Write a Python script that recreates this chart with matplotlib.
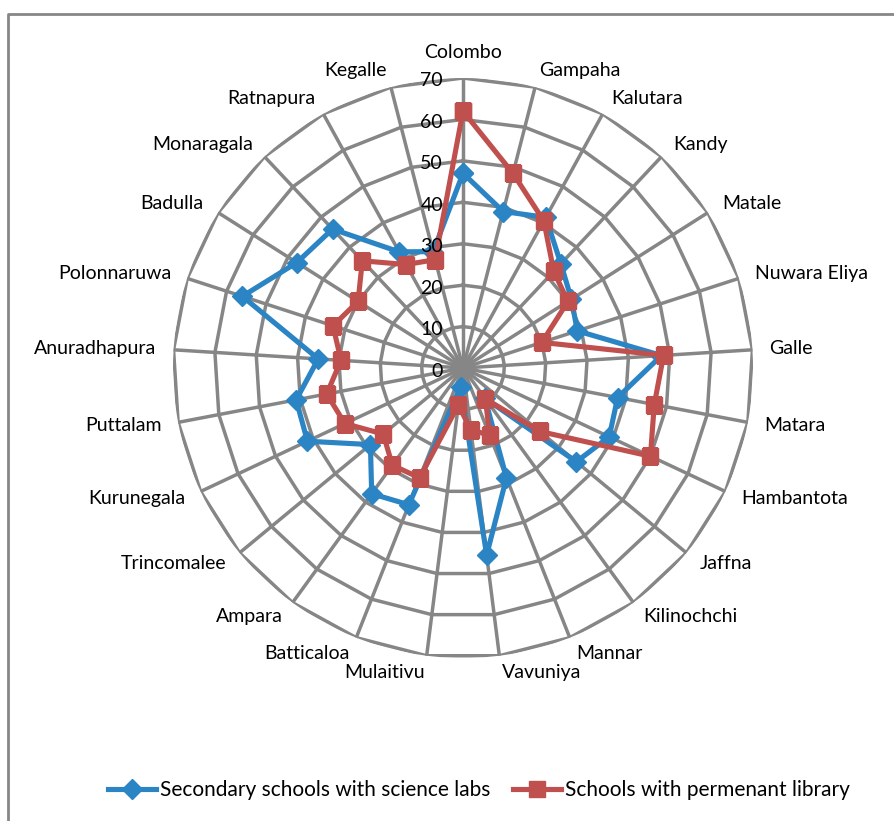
import numpy as np
import matplotlib
matplotlib.use("Agg")
import matplotlib.pyplot as plt
from matplotlib.lines import Line2D

plt.rcParams.update({"font.family": ["Lato", "DejaVu Sans"], "font.size": 14})

districts = ["Colombo", "Gampaha", "Kalutara", "Kandy", "Matale", "Nuwara Eliya",
             "Galle", "Matara", "Hambantota", "Jaffna", "Kilinochchi", "Mannar",
             "Vavuniya", "Mulaitivu", "Batticaloa", "Ampara", "Trincomalee",
             "Kurunegala", "Puttalam", "Anuradhapura", "Polonnaruwa", "Badulla",
             "Monaragala", "Ratnapura", "Kegalle"]
science_labs = [47, 39, 41.5, 34.5, 31, 29, 48, 38, 39, 35.5, 9, 28.5, 45.5,
                4.5, 35.5, 37.5, 29, 41.5, 41, 35, 56, 47.5, 46, 32, 29]
library = [62, 48.5, 40.5, 32, 30, 20, 48.5, 47, 50, 24, 9.2, 17.5, 15,
           9, 28.5, 29, 25, 31.5, 33.5, 29.5, 33, 30, 35.5, 28.5, 27]
rings = [10, 20, 30, 40, 50, 60, 70]
ring_labels = ["0", "10", "20", "30", "40", "50", "60", "70"]

GRID = "#868686"
BLUE = "#2B84C3"
RED = "#C0504D"

n = len(districts)
theta = np.arange(n) * 2 * np.pi / n
closed = np.append(theta, theta[0])

fig = plt.figure(figsize=(8.94, 8.21), dpi=100)
ax = fig.add_axes([0.1935, 0.1985, 0.6488, 0.7065], projection="polar")
ax.set_theta_zero_location("N")
ax.set_theta_direction(-1)
ax.set_ylim(0, 70)
ax.grid(False)
ax.spines["polar"].set_visible(False)
ax.set_xticks([])
ax.set_yticks([])
ax.patch.set_alpha(0)

# polygon web: rings and spokes
for r in rings:
    ax.plot(closed, [r] * (n + 1), color=GRID, lw=2.5, zorder=1)
for t in theta:
    ax.plot([t, t], [0, 70], color=GRID, lw=2.5, zorder=1)

ax.plot(closed, np.append(science_labs, science_labs[0]), color=BLUE, lw=3.7,
        marker="D", ms=10, zorder=3, label="Secondary schools with science labs")
ax.plot(closed, np.append(library, library[0]), color=RED, lw=3.7,
        marker="s", ms=12, zorder=4, label="Schools with permenant library")

# category labels around the outer ring
for t, name in zip(theta, districts):
    s, c = np.sin(t), np.cos(t)
    ha = "left" if s > 0.05 else ("right" if s < -0.05 else "center")
    va = "bottom" if c > 0.99 else "center"
    ax.annotate(name, (t, 70), xytext=(17 * s, 17 * c), textcoords="offset pixels",
                ha=ha, va=va, annotation_clip=False)

# value labels along the Colombo spoke
for i, lab in enumerate(ring_labels):
    ax.annotate(lab, (0, i * 10), xytext=(-20, -3), textcoords="offset pixels",
                ha="right", va="center", annotation_clip=False, zorder=5)

fig.legend(loc="center", bbox_to_anchor=(0.536, 0.038), ncol=2, frameon=False,
           fontsize=15, handlelength=2.3, columnspacing=1.1, handletextpad=0.2)

# outer chart frame
fig.add_artist(Line2D([8 / 894, 8 / 894, 1], [0, 1 - 14 / 821, 1 - 14 / 821],
                      transform=fig.transFigure, color=GRID, lw=2))

fig.savefig("out.png", dpi=100)
